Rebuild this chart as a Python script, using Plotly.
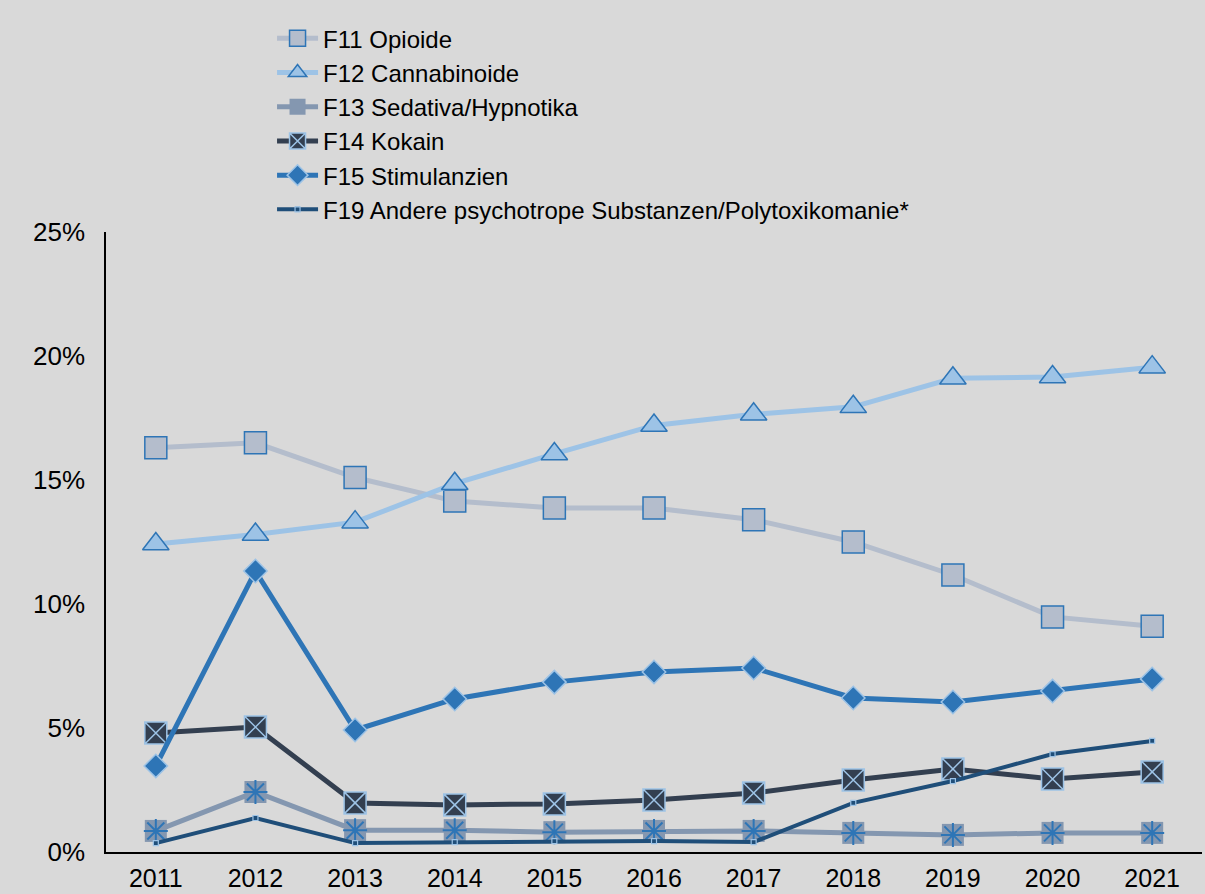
import plotly.graph_objects as go

years = ["2011", "2012", "2013", "2014", "2015", "2016", "2017", "2018", "2019", "2020", "2021"]
f11_opioide = [16.3, 16.5, 15.1, 14.15, 13.87, 13.87, 13.4, 12.5, 11.17, 9.48, 9.1]
f12_cannabinoide = [12.42, 12.8, 13.3, 14.85, 16.05, 17.2, 17.65, 17.95, 19.1, 19.15, 19.55]
f13_sedativa = [0.85, 2.42, 0.88, 0.88, 0.8, 0.85, 0.85, 0.77, 0.69, 0.77, 0.77]
f14_kokain = [4.8, 5.04, 1.98, 1.9, 1.94, 2.1, 2.38, 2.9, 3.35, 2.94, 3.23]
f15_stimulanzien = [3.47, 11.33, 4.92, 6.17, 6.85, 7.26, 7.42, 6.21, 6.05, 6.49, 6.98]
f19_andere = [0.36, 1.37, 0.36, 0.4, 0.44, 0.44, 0.4, 1.98, 2.86, 3.95, 4.48]

names = ["F11 Opioide", "F12 Cannabinoide", "F13 Sedativa/Hypnotika", "F14 Kokain",
         "F15 Stimulanzien", "F19 Andere psychotrope Substanzen/Polytoxikomanie*"]
y_tickvals = [0, 5, 10, 15, 20, 25]
y_ticktext = ["0%", "5%", "10%", "15%", "20%", "25%"]

BG = "#d9d9d9"
FONT = "Liberation Sans, Arial, sans-serif"

fig = go.Figure()
fig.add_trace(go.Scatter(x=years, y=f11_opioide, name=names[0], mode="lines+markers",
                         line=dict(color="#b4bdcc", width=5),
                         marker=dict(symbol="square", size=22, color="#b4bdcc",
                                     line=dict(color="#2e75b6", width=1.5))))
fig.add_trace(go.Scatter(x=years, y=f12_cannabinoide, name=names[1], mode="lines+markers",
                         line=dict(color="#9dc3e6", width=5),
                         marker=dict(symbol="triangle-up", size=23, color="#9dc3e6",
                                     line=dict(color="#2e75b6", width=1.5))))
fig.add_trace(go.Scatter(x=years, y=f13_sedativa, name=names[2], mode="lines+markers",
                         line=dict(color="#8497b0", width=5),
                         marker=dict(symbol="square", size=22, color="#8497b0",
                                     line=dict(color="#8497b0", width=0)),
                         legendgroup="f13"))
fig.add_trace(go.Scatter(x=years, y=f13_sedativa, name=names[2], mode="markers",
                         marker=dict(symbol="asterisk-open", size=20, color="#2e75b6",
                                     line=dict(color="#2e75b6", width=2)),
                         legendgroup="f13", showlegend=False))
fig.add_trace(go.Scatter(x=years, y=f14_kokain, name=names[3], mode="lines+markers",
                         line=dict(color="#333f50", width=5),
                         marker=dict(symbol="square-x", size=22, color="#333f50",
                                     line=dict(color="#9dc3e6", width=1.5))))
fig.add_trace(go.Scatter(x=years, y=f15_stimulanzien, name=names[4], mode="lines+markers",
                         line=dict(color="#2e75b6", width=5),
                         marker=dict(symbol="diamond", size=18, color="#2e75b6",
                                     line=dict(color="#9dc3e6", width=1.5))))
fig.add_trace(go.Scatter(x=years, y=f19_andere, name=names[5], mode="lines+markers",
                         line=dict(color="#1f4e79", width=4),
                         marker=dict(symbol="square", size=5, color="#1f4e79",
                                     line=dict(color="#9dc3e6", width=1.2))))

fig.update_layout(
    width=1205, height=894,
    paper_bgcolor=BG, plot_bgcolor=BG,
    margin=dict(l=106, r=3, t=232, b=42, autoexpand=False),
    font=dict(family=FONT, size=26, color="#000000"),
    showlegend=True,
    legend=dict(x=0.1515, y=1.348, xanchor="left", yanchor="top",
                bgcolor="rgba(0,0,0,0)", font=dict(size=24, family=FONT, color="#000000"),
                tracegroupgap=0, itemwidth=41),
    xaxis=dict(type="category", range=[-0.5, 10.5], showgrid=False, zeroline=False,
               showline=True, linecolor="#000000", linewidth=1.5, ticks="",
               automargin=False, ticklabelstandoff=3, tickfont=dict(size=25, family=FONT)),
    yaxis=dict(range=[0, 25], tickmode="array", tickvals=y_tickvals, ticktext=y_ticktext,
               showgrid=False, zeroline=False, showline=True, linecolor="#000000",
               linewidth=1.5, ticks="", automargin=False, ticklabelstandoff=14,
               tickfont=dict(size=26, family=FONT)),
)

fig.write_html("out.html", config={"displayModeBar": False},
               post_script="document.body.style.margin='0';document.body.style.overflow='hidden';")
